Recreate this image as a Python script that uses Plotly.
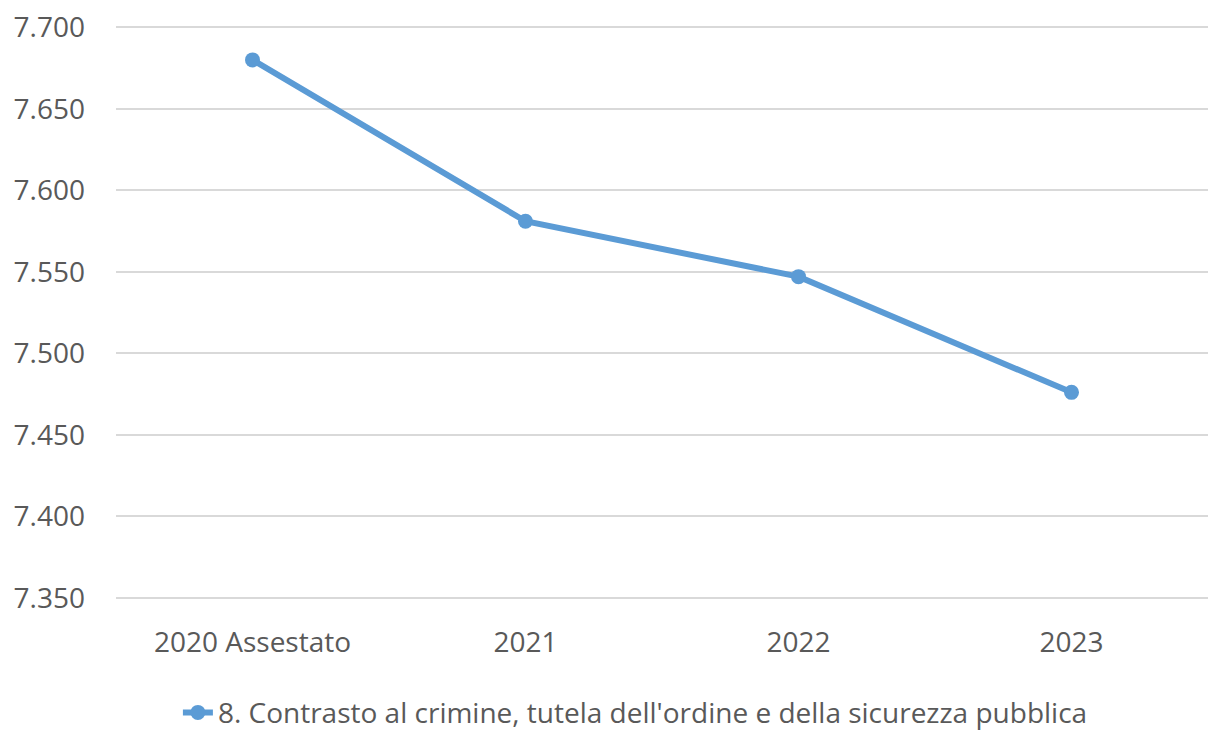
import plotly.graph_objects as go

categories = ["2020 Assestato", "2021", "2022", "2023"]
values = [7680, 7581, 7547, 7476]
series_name = "8. Contrasto al crimine, tutela dell'ordine e della sicurezza pubblica"
y_ticks = [7350, 7400, 7450, 7500, 7550, 7600, 7650, 7700]

fig = go.Figure()
fig.add_trace(go.Scatter(
    x=list(range(len(categories))), y=values, mode="lines+markers", name=series_name,
    line=dict(color="#5B9BD5", width=6),
    marker=dict(color="#5B9BD5", size=15),
))

fig.update_layout(
    width=1208, height=731,
    paper_bgcolor="white", plot_bgcolor="white",
    margin=dict(l=116, r=0, t=26, b=132),
    separators=",.",
    font=dict(family="Open Sans", size=28, color="#595959"),
    showlegend=True,
    legend=dict(orientation="h", xref="container", yref="container",
                x=0.526, xanchor="center", y=0.025, yanchor="middle",
                font=dict(size=28, color="#595959")),
    xaxis=dict(range=[-0.5, 3.5], tickmode="array", tickvals=list(range(len(categories))),
               ticktext=categories, showgrid=False, zeroline=False, showline=False,
               ticks="", ticklabelstandoff=24, automargin=False),
    yaxis=dict(range=[7349.2, 7700.8], tickvals=y_ticks, tickformat=",.0f",
               showgrid=True, gridcolor="#D9D9D9", gridwidth=2, zeroline=False,
               showline=False, ticks="", ticklabelstandoff=30, automargin=False),
)

fig.write_html("out.html", config={"displayModeBar": False},
               post_script="document.body.style.margin='0';document.body.style.overflow='hidden';")
